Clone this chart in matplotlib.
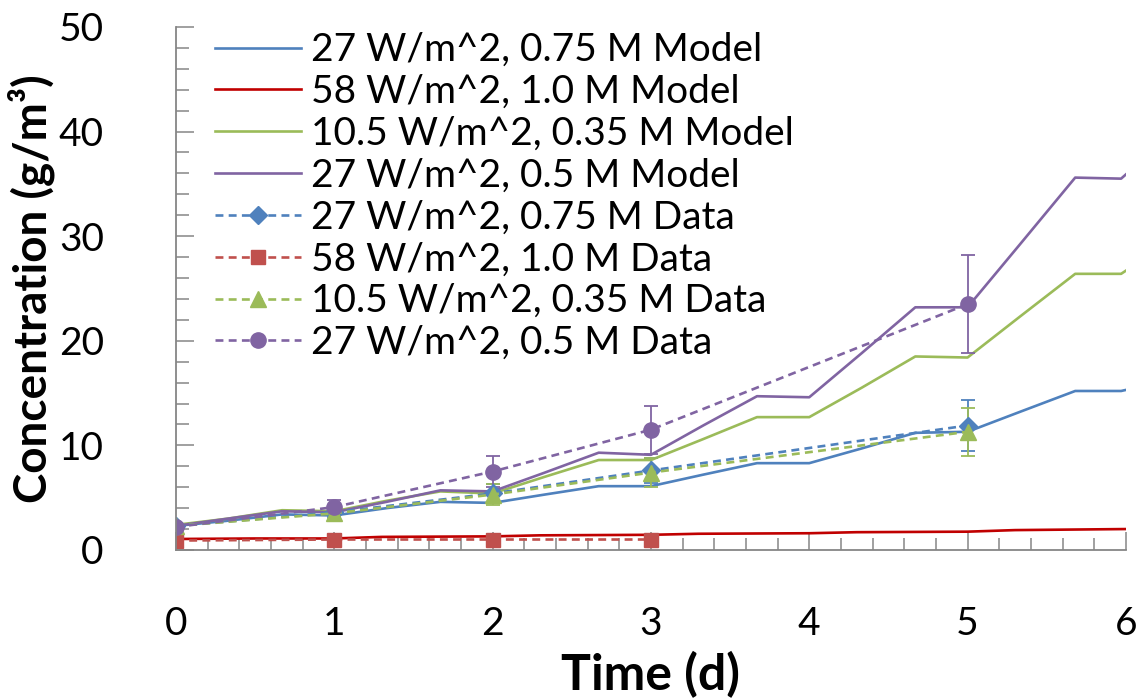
import matplotlib
matplotlib.use("Agg")
import matplotlib.pyplot as plt
from matplotlib.lines import Line2D
from matplotlib.ticker import MultipleLocator

plt.rcParams['font.family'] = ['Lato', 'DejaVu Sans']

# model curves (days, g/m^3)
t_model = [0, 0.33, 0.67, 1.0, 1.33, 1.67, 2.0, 2.33, 2.67, 3.0, 3.33, 3.67, 4.0,
           4.33, 4.67, 5.0, 5.33, 5.68, 5.97, 6.0]
blue_model = [2.3, 2.8, 3.4, 3.3, 4.0, 4.6, 4.5, 5.3, 6.1, 6.1, 7.2, 8.3, 8.3,
              9.7, 11.2, 11.3, 13.2, 15.2, 15.2, 15.3]
green_model = [2.4, 3.0, 3.8, 3.7, 4.7, 5.6, 5.4, 7.0, 8.6, 8.6, 10.6, 12.7, 12.7,
               15.5, 18.5, 18.4, 22.3, 26.4, 26.4, 26.7]
purple_model = [2.3, 3.0, 3.7, 3.6, 4.6, 5.7, 5.6, 7.4, 9.3, 9.1, 11.9, 14.7, 14.6,
                18.8, 23.2, 23.2, 29.2, 35.6, 35.5, 35.9]
t_red_model = [0, 0.5, 1.0, 1.3, 2.0, 2.3, 3.0, 3.3, 4.0, 4.3, 5.0, 5.3, 6.0]
red_model = [1.05, 1.1, 1.1, 1.25, 1.3, 1.4, 1.45, 1.55, 1.6, 1.7, 1.75, 1.9, 2.0]

# measured data
t_data = [0, 1, 2, 3, 5]
blue_data = [2.3, 3.6, 5.4, 7.6, 11.9]
blue_err = [0.3, 0.4, 0.9, 1.2, 2.4]
green_data = [2.3, 3.5, 5.3, 7.4, 11.3]
green_err = [0.3, 0.5, 1.0, 1.4, 2.3]
t_red = [0, 1, 2, 3]
red_data = [0.9, 1.0, 1.0, 1.0]
red_err = [0.1, 0.1, 0.1, 0.1]
purple_data = [2.2, 4.1, 7.5, 11.5, 23.5]
purple_err = [0.3, 0.7, 1.5, 2.3, 4.7]

labels = ['27 W/m^2, 0.75 M Model', '58 W/m^2, 1.0 M Model',
          '10.5 W/m^2, 0.35 M Model', '27 W/m^2, 0.5 M Model',
          '27 W/m^2, 0.75 M Data', '58 W/m^2, 1.0 M Data',
          '10.5 W/m^2, 0.35 M Data', '27 W/m^2, 0.5 M Data']

blue = '#4F81BD'
red = '#C00000'
red2 = '#C0504D'
green = '#9BBB59'
purple = '#8064A2'

fig = plt.figure(figsize=(11.43, 6.99), dpi=100)
ax = fig.add_axes([0.154, 0.2132, 0.831, 0.7482])

lw = 1.9
ax.plot(t_model, blue_model, color=blue, lw=lw)
ax.plot(t_red_model, red_model, color=red, lw=lw)
ax.plot(t_model, green_model, color=green, lw=lw)
ax.plot(t_model, purple_model, color=purple, lw=lw)

ekw = dict(elinewidth=1.3, capsize=5, capthick=1.3, ls='--', lw=lw, dashes=(3, 2))
ax.errorbar(t_data, blue_data, yerr=blue_err, color=blue, marker='D', ms=9, **ekw)
ax.errorbar(t_red, red_data, yerr=red_err, color=red2, marker='s', ms=10, **ekw)
ax.errorbar(t_data, green_data, yerr=green_err, color=green, marker='^', ms=11, **ekw)
ax.errorbar(t_data, purple_data, yerr=purple_err, color=purple, marker='o', ms=11, **ekw)

# legend handles without the error bars
handles = [
    Line2D([], [], color=blue, lw=lw),
    Line2D([], [], color=red, lw=lw),
    Line2D([], [], color=green, lw=lw),
    Line2D([], [], color=purple, lw=lw),
    Line2D([], [], color=blue, lw=lw, ls='--', dashes=(3, 2), marker='D', ms=9),
    Line2D([], [], color=red2, lw=lw, ls='--', dashes=(3, 2), marker='s', ms=10),
    Line2D([], [], color=green, lw=lw, ls='--', dashes=(3, 2), marker='^', ms=11),
    Line2D([], [], color=purple, lw=lw, ls='--', dashes=(3, 2), marker='o', ms=11),
]

ax.set_xlim(0, 6)
ax.set_ylim(0, 50)
ax.xaxis.set_major_locator(MultipleLocator(1))
ax.xaxis.set_minor_locator(MultipleLocator(0.2))
ax.yaxis.set_major_locator(MultipleLocator(10))
ax.yaxis.set_minor_locator(MultipleLocator(2))

for s in ['top', 'right']:
    ax.spines[s].set_visible(False)
for s in ['left', 'bottom']:
    ax.spines[s].set_color('#868686')
    ax.spines[s].set_linewidth(1.3)

ax.tick_params(which='major', direction='in', length=13, width=1.1, color='#868686',
               labelsize=28)
ax.tick_params(which='minor', direction='in', length=9, width=1.1, color='#868686')
ax.tick_params(axis='x', which='major', pad=40)
ax.tick_params(axis='y', which='major', pad=52)

ax.set_xlabel('Time (d)', fontsize=36, fontweight='bold', va='center')
ax.xaxis.set_label_coords(0.5, -0.239)
ax.set_ylabel('Concentration (g/m³)', fontsize=33, fontweight='bold', va='center')
ax.yaxis.set_label_coords(-0.152, 0.5)

ax.legend(handles, labels, loc='upper left', bbox_to_anchor=(0.041, 0.99),
          frameon=False, fontsize=28, handlelength=2.2, handletextpad=0.26,
          labelspacing=0.15, borderpad=0, borderaxespad=0)

fig.savefig('out.png', dpi=100)
